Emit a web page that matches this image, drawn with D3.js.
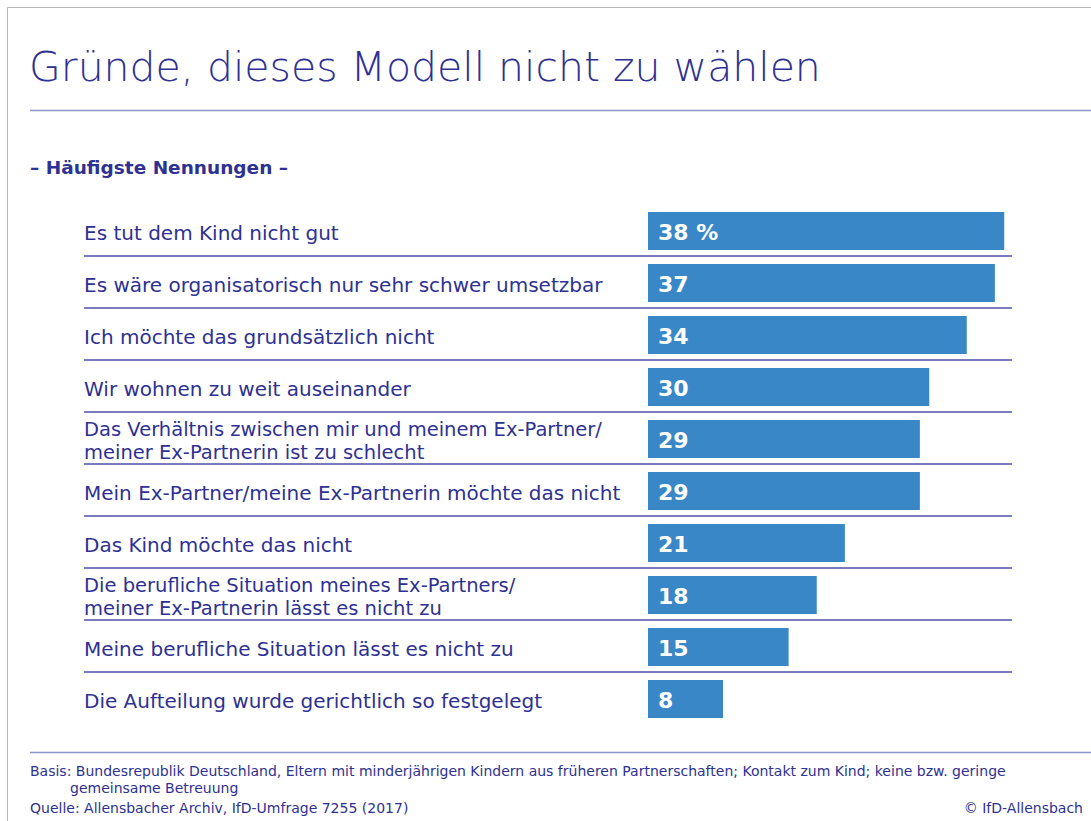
<!DOCTYPE html>
<html>
<head>
<meta charset="utf-8">
<script src="https://cdn.jsdelivr.net/npm/d3@7"></script>
<style>
  body { margin: 0; background: #fff; }
  svg { display: block; font-family: "DejaVu Sans", sans-serif; }
</style>
</head>
<body>
<svg id="chart" width="1091" height="821"></svg>
<script>
// values, in percent
const reasons = [
  ["Es tut dem Kind nicht gut"],
  ["Es wäre organisatorisch nur sehr schwer umsetzbar"],
  ["Ich möchte das grundsätzlich nicht"],
  ["Wir wohnen zu weit auseinander"],
  ["Das Verhältnis zwischen mir und meinem Ex-Partner/", "meiner Ex-Partnerin ist zu schlecht"],
  ["Mein Ex-Partner/meine Ex-Partnerin möchte das nicht"],
  ["Das Kind möchte das nicht"],
  ["Die berufliche Situation meines Ex-Partners/", "meiner Ex-Partnerin lässt es nicht zu"],
  ["Meine berufliche Situation lässt es nicht zu"],
  ["Die Aufteilung wurde gerichtlich so festgelegt"]
];
const values = [38, 37, 34, 30, 29, 29, 21, 18, 15, 8];
const valueLabels = ["38 %", "37", "34", "30", "29", "29", "21", "18", "15", "8"];

const titleText = "Gründe, dieses Modell nicht zu wählen";
const subtitleText = "– Häufigste Nennungen –";
const footerLines = [
  "Basis: Bundesrepublik Deutschland, Eltern mit minderjährigen Kindern aus früheren Partnerschaften; Kontakt zum Kind; keine bzw. geringe",
  "gemeinsame Betreuung",
  "Quelle: Allensbacher Archiv, IfD-Umfrage 7255 (2017)"
];
const copyright = "© IfD-Allensbach";

const navy = "#2e3192";
const barColor = "#3a87c8";
const ruleColor = "#8e95c8";

const svg = d3.select("#chart");

// grey frame on top and left
svg.append("path")
  .attr("d", "M7.5,821V7.5H1091")
  .attr("fill", "none")
  .attr("stroke", "#b8b8b8")
  .attr("stroke-width", 1);

svg.append("text")
  .attr("x", 29).attr("y", 81)
  .attr("fill", navy)
  .style("font-size", "41px")
  .style("font-weight", "300")
  .text(titleText);

svg.append("line")
  .attr("x1", 30).attr("x2", 1091)
  .attr("y1", 110.5).attr("y2", 110.5)
  .attr("stroke", ruleColor).attr("stroke-width", 1.5);

svg.append("text")
  .attr("x", 30).attr("y", 174)
  .attr("fill", navy)
  .style("font-size", "18.5px")
  .style("font-weight", "bold")
  .text(subtitleText);

const x = d3.scaleLinear().domain([0, 40]).range([648, 1023]);
const y = d3.scaleBand()
  .domain(d3.range(values.length))
  .range([205, 725])
  .paddingInner(14 / 52)
  .paddingOuter(7 / 52);

const rows = svg.append("g").selectAll("g")
  .data(values)
  .join("g");

rows.append("rect")
  .attr("x", x(0))
  .attr("y", (d, i) => y(i))
  .attr("width", d => x(d) - x(0))
  .attr("height", y.bandwidth())
  .attr("fill", barColor);

rows.append("text")
  .attr("x", x(0) + 10)
  .attr("y", (d, i) => y(i) + y.bandwidth() / 2 + 1)
  .attr("dominant-baseline", "central")
  .attr("fill", "#fff")
  .style("font-size", "22px")
  .style("font-weight", "bold")
  .text((d, i) => valueLabels[i]);

rows.each(function(d, i) {
  const lines = reasons[i];
  const cy = y(i) + y.bandwidth() / 2 + 2;
  const g = d3.select(this);
  lines.forEach((l, k) => {
    g.append("text")
      .attr("x", 84)
      .attr("y", cy + (k - (lines.length - 1) / 2) * 23.5)
      .attr("fill", navy)
      .attr("dominant-baseline", "central")
      .style("font-size", lines.length > 1 ? "19.5px" : "20px")
      .text(l);
  });
});

// separators below every row but the last
svg.append("g").selectAll("line")
  .data(d3.range(values.length - 1))
  .join("line")
  .attr("x1", 84).attr("x2", 1012)
  .attr("y1", i => y(i) + y.bandwidth() + 6)
  .attr("y2", i => y(i) + y.bandwidth() + 6)
  .attr("stroke", "#4c51a6")
  .attr("stroke-width", 1.5);

svg.append("line")
  .attr("x1", 30).attr("x2", 1091)
  .attr("y1", 752.5).attr("y2", 752.5)
  .attr("stroke", ruleColor).attr("stroke-width", 1.5);

const foot = svg.append("g")
  .attr("fill", navy)
  .style("font-size", "14px");
foot.append("text").attr("x", 30).attr("y", 776).text(footerLines[0]);
foot.append("text").attr("x", 70).attr("y", 793).text(footerLines[1]);
foot.append("text").attr("x", 30).attr("y", 813).text(footerLines[2]);
foot.append("text").attr("x", 1083).attr("y", 813)
  .attr("text-anchor", "end").text(copyright);
</script>
</body>
</html>
